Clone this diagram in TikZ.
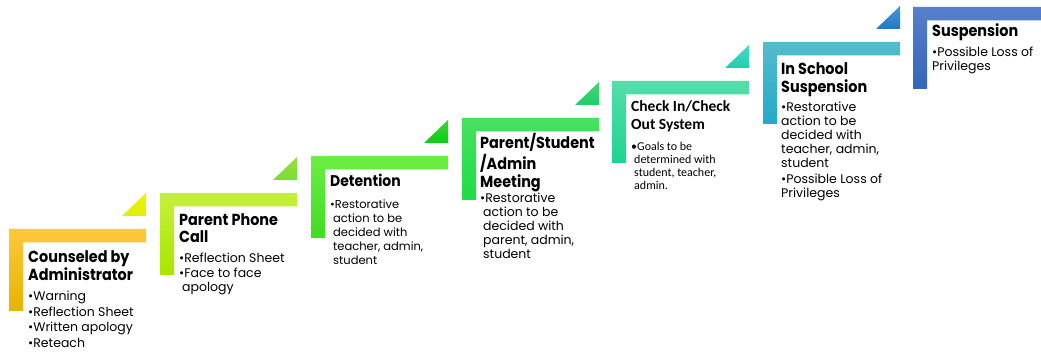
\documentclass[tikz,border=0pt]{standalone}
\usepackage{fontspec}
\setmainfont{Poppins}
\newfontfamily\ttlfont{Poppins}[FakeStretch=0.9]
\newfontfamily\calfont{Carlito}
\definecolor{c1t}{HTML}{FFC83C}\definecolor{c1b}{HTML}{E6B400}
\definecolor{c2t}{HTML}{C6F03A}\definecolor{c2b}{HTML}{A8E600}
\definecolor{c3t}{HTML}{6CEE44}\definecolor{c3b}{HTML}{3EDD22}
\definecolor{c4t}{HTML}{48E060}\definecolor{c4b}{HTML}{1EDD44}
\definecolor{c5t}{HTML}{55DDAA}\definecolor{c5b}{HTML}{1ED490}
\definecolor{c6t}{HTML}{55BBCC}\definecolor{c6b}{HTML}{22AACC}
\definecolor{c7t}{HTML}{5580CC}\definecolor{c7b}{HTML}{3366BB}
\definecolor{t1t}{HTML}{F2F200}\definecolor{t1b}{HTML}{DDEE10}
\definecolor{t2t}{HTML}{99E040}\definecolor{t2b}{HTML}{77DD33}
\definecolor{t3t}{HTML}{33D833}\definecolor{t3b}{HTML}{11CC11}
\definecolor{t4t}{HTML}{44D878}\definecolor{t4b}{HTML}{22CC66}
\definecolor{t5t}{HTML}{44DDC8}\definecolor{t5b}{HTML}{22CCB0}
\definecolor{t6t}{HTML}{4499D8}\definecolor{t6b}{HTML}{2277C4}
\newcommand\stepL[5]{%
  \path[top color=#3,bottom color=#4] (#1,#2) -- ++(#5,0) -- ++(0,13.5) -- ++(-#5+14,0) -- ++(0,68.5) -- ++(-14,0) -- cycle;}
\newcommand\stepT[5]{%
  \path[top color=#3,bottom color=#4] (#1+137,#2-13) -- ++(0,-23) -- ++(-24,23) -- cycle;}
\newcommand\bl{\textbullet}
\newcommand\ct{\hspace*{3pt}}
\newcommand\ls[1]{\begin{tabular}[t]{@{}l@{}}#1\end{tabular}}
\begin{document}
\begin{tikzpicture}[x=1pt,y=-1pt,
  ttl/.style={anchor=base west,inner sep=0pt},
  bul/.style={anchor=base west,inner sep=0pt}]
\useasboundingbox (0,0) rectangle (1041,352);
\fill[white] (0,0) rectangle (1041,352);
\stepL{9}{229}{c1t}{c1b}{137}\stepT{9}{229}{t1t}{t1b}{}
\stepL{160}{193}{c2t}{c2b}{137}\stepT{160}{193}{t2t}{t2b}{}
\stepL{311}{156}{c3t}{c3b}{137}\stepT{311}{156}{t3t}{t3b}{}
\stepL{462}{118}{c4t}{c4b}{137}\stepT{462}{118}{t4t}{t4b}{}
\stepL{612}{81}{c5t}{c5b}{137}\stepT{612}{81}{t5t}{t5b}{}
\stepL{763}{42}{c6t}{c6b}{137}\stepT{763}{42}{t6t}{t6b}{}
\stepL{913}{7}{c7t}{c7b}{128}
% texts
\node[ttl,font=\ttlfont\bfseries\fontsize{16}{15}\selectfont] (h1) at (28,263) {\ls{Counseled by\\Administrator}};
\node[bul,font=\fontsize{12.5}{15.5}\selectfont] (b1) at (28,300.7) {\ls{\bl Warning\\\bl Reflection Sheet\\\bl Written apology\\\bl Reteach}};
\node[ttl,font=\ttlfont\bfseries\fontsize{16}{15.5}\selectfont] (h2) at (179,226) {\ls{Parent Phone\\Call}};
\node[bul,font=\fontsize{12.5}{14.5}\selectfont] (b2) at (179,263) {\ls{\bl Reflection Sheet\\\bl Face to face\\\ct apology}};
\node[ttl,font=\ttlfont\bfseries\fontsize{15.5}{15}\selectfont] (h3) at (330,187) {\ls{Detention}};
\node[bul,font=\fontsize{11.5}{13.8}\selectfont] (b3) at (330,209) {\ls{\bl Restorative\\\ct action to be\\\ct decided with\\\ct teacher, admin,\\\ct student}};
\node[ttl,font=\ttlfont\bfseries\fontsize{16}{17}\selectfont] (h4) at (480,149) {\ls{Parent/Student\\/Admin\\Meeting}};
\node[bul,font=\fontsize{12.5}{14}\selectfont] (b4) at (480,203) {\ls{\bl Restorative\\\ct action to be\\\ct decided with\\\ct parent, admin,\\\ct student}};
\node[ttl,font=\calfont\bfseries\fontsize{15.5}{18}\selectfont] (h5) at (631,112) {\ls{Check In/Check\\Out System}};
\node[bul,font=\calfont\fontsize{12}{13}\selectfont] (b5) at (631,151) {\ls{\bl Goals to be\\\ct determined with\\\ct student, teacher,\\\ct admin.}};
\node[ttl,font=\ttlfont\bfseries\fontsize{16}{16}\selectfont] (h6) at (781,75) {\ls{In School\\Suspension}};
\node[bul,font=\fontsize{12.5}{13.8}\selectfont] (b6) at (781,112) {\ls{\bl Restorative\\action to be\\decided with\\teacher, admin,\\student\\[2.5pt]\bl Possible Loss of\\Privileges}};
\node[ttl,font=\ttlfont\bfseries\fontsize{16}{16}\selectfont] (h7) at (932,37) {\ls{Suspension}};
\node[bul,font=\fontsize{12.5}{13.5}\selectfont] (b7) at (932,57) {\ls{\bl Possible Loss of\\Privileges}};
\end{tikzpicture}
\end{document}
